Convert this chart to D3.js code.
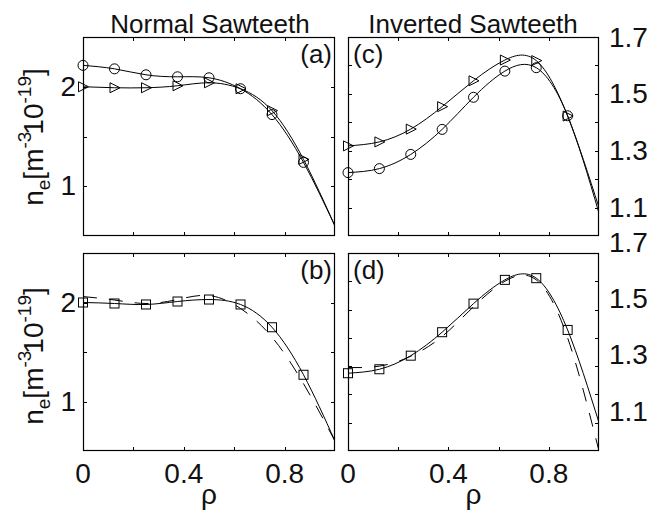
<!DOCTYPE html>
<html>
<head>
<meta charset="utf-8">
<script src="https://cdn.jsdelivr.net/npm/d3@7"></script>
<style>
  body { margin: 0; background: #fff; }
  text { font-family: "Liberation Sans", Arial, sans-serif; fill: #111; }
</style>
</head>
<body>
<div id="chart"></div>
<script>
// rho grid of the fitted curves, markers sit on the first 8 points
var rhoLine = [0, 0.125, 0.25, 0.375, 0.5, 0.625, 0.75, 0.875, 1];
var rhoMark = [0, 0.125, 0.25, 0.375, 0.5, 0.625, 0.75, 0.875];

// (a) normal sawteeth
var normCircle   = [2.215, 2.18, 2.12, 2.10, 2.09, 1.98, 1.72, 1.24, 0.60];
var normTriangle = [2.00, 1.99, 1.99, 2.01, 2.04, 1.98, 1.76, 1.27, 0.60];
// (b) normal sawteeth
var normSquare   = [2.00, 1.99, 1.98, 2.01, 2.03, 1.98, 1.75, 1.27, 0.60];
var normDashed   = [2.06, 2.025, 1.99, 2.03, 2.07, 1.94, 1.65, 1.18, 0.60];
// (c) inverted sawteeth
var invCircle    = [1.223, 1.237, 1.287, 1.375, 1.488, 1.580, 1.592, 1.423, 1.08];
var invTriangle  = [1.317, 1.331, 1.376, 1.455, 1.546, 1.619, 1.617, 1.422, 1.10];
// (d) inverted sawteeth
var invSquare    = [1.275, 1.289, 1.337, 1.420, 1.521, 1.605, 1.611, 1.428, 1.10];
var invDashed    = [1.295, 1.30, 1.335, 1.405, 1.51, 1.60, 1.605, 1.40, 1.00];

var xTicks = [0.2, 0.4, 0.6, 0.8];
var xTickLabels = [0, 0.4, 0.8];
var normYTicks = [1, 1.5, 2];
var normYLabels = [1, 2];
var invYTicks = [1.1, 1.2, 1.3, 1.4, 1.5, 1.6];
var invYLabels = [1.1, 1.3, 1.5, 1.7];

var svg = d3.select("#chart").append("svg")
  .attr("width", 648).attr("height", 515);

var panels = [
  {id: "a", x0: 83,  x1: 335, y0: 37,  y1: 236, dom: [0.5, 2.5], yt: normYTicks, tag: "(a)", tagRight: true,
   series: [{v: normCircle, m: "circle"}, {v: normTriangle, m: "triangle"}]},
  {id: "c", x0: 348, x1: 599, y0: 37,  y1: 236, dom: [1.0, 1.7], yt: invYTicks, tag: "(c)", tagRight: false,
   series: [{v: invCircle, m: "circle"}, {v: invTriangle, m: "triangle"}]},
  {id: "b", x0: 83,  x1: 335, y0: 253, y1: 451, dom: [0.5, 2.5], yt: normYTicks, tag: "(b)", tagRight: true,
   series: [{v: normDashed, dash: true}, {v: normSquare, m: "square"}]},
  {id: "d", x0: 348, x1: 599, y0: 253, y1: 451, dom: [1.0, 1.7], yt: invYTicks, tag: "(d)", tagRight: false,
   series: [{v: invDashed, dash: true}, {v: invSquare, m: "square"}]}
];

var tri = "M-4.5,-5L5.5,0L-4.5,5Z";

panels.forEach(function(p) {
  p.x = d3.scaleLinear().domain([0, 1]).range([p.x0, p.x1]);
  p.y = d3.scaleLinear().domain(p.dom).range([p.y1, p.y0]);
  var g = svg.append("g").attr("id", "panel_" + p.id);

  var line = d3.line()
    .x(function(d, i) { return p.x(rhoLine[i]); })
    .y(function(d) { return p.y(d); })
    .curve(d3.curveNatural);

  g.append("defs").append("clipPath").attr("id", "clip_" + p.id)
    .append("rect").attr("x", p.x0).attr("y", p.y0)
    .attr("width", p.x1 - p.x0).attr("height", p.y1 - p.y0);

  var plot = g.append("g").attr("clip-path", "url(#clip_" + p.id + ")");

  p.series.forEach(function(s) {
    plot.append("path").datum(s.v)
      .attr("d", line)
      .attr("fill", "none")
      .attr("stroke", "#000")
      .attr("stroke-width", 1)
      .attr("stroke-dasharray", s.dash ? "14,12" : null);

    if (!s.m) return;
    var pts = rhoMark.map(function(r, i) { return [p.x(r), p.y(s.v[i])]; });
    if (s.m == "circle") {
      g.selectAll(null).data(pts).enter().append("circle")
        .attr("cx", function(d) { return d[0]; })
        .attr("cy", function(d) { return d[1]; })
        .attr("r", 5).attr("fill", "none").attr("stroke", "#000");
    } else if (s.m == "triangle") {
      g.selectAll(null).data(pts).enter().append("path")
        .attr("d", tri)
        .attr("transform", function(d) { return "translate(" + d[0] + "," + d[1] + ")"; })
        .attr("fill", "none").attr("stroke", "#000");
    } else {
      g.selectAll(null).data(pts).enter().append("rect")
        .attr("x", function(d) { return d[0] - 4.5; })
        .attr("y", function(d) { return d[1] - 4.5; })
        .attr("width", 9).attr("height", 9)
        .attr("fill", "none").attr("stroke", "#000");
    }
  });

  // frame
  g.append("rect")
    .attr("x", p.x0 + 0.5).attr("y", p.y0 + 0.5)
    .attr("width", p.x1 - p.x0 - 1).attr("height", p.y1 - p.y0 - 1)
    .attr("fill", "none").attr("stroke", "#000").attr("stroke-width", 1.2);

  // inward ticks on all four sides
  var tl = 4;
  xTicks.forEach(function(t) {
    var xx = Math.round(p.x(t)) + 0.5;
    g.append("line").attr("x1", xx).attr("x2", xx).attr("y1", p.y1).attr("y2", p.y1 - tl).attr("stroke", "#000");
    g.append("line").attr("x1", xx).attr("x2", xx).attr("y1", p.y0).attr("y2", p.y0 + tl).attr("stroke", "#000");
  });
  p.yt.forEach(function(t) {
    var yy = Math.round(p.y(t)) + 0.5;
    g.append("line").attr("x1", p.x0).attr("x2", p.x0 + tl).attr("y1", yy).attr("y2", yy).attr("stroke", "#000");
    g.append("line").attr("x1", p.x1).attr("x2", p.x1 - tl).attr("y1", yy).attr("y2", yy).attr("stroke", "#000");
  });

  g.append("text")
    .attr("x", p.tagRight ? p.x1 - 3 : p.x0 + 5)
    .attr("y", p.y0 + 26)
    .attr("text-anchor", p.tagRight ? "end" : "start")
    .attr("font-size", 26)
    .text(p.tag);
});

// left y labels on the normal panels
[panels[0], panels[2]].forEach(function(p) {
  svg.selectAll(null).data(normYLabels).enter().append("text")
    .attr("x", 76).attr("y", function(d) { return p.y(d) + 9; })
    .attr("text-anchor", "end").attr("font-size", 28)
    .text(function(d) { return d; });
});

// right y labels on the inverted panels (the lower set sits a bit high, as in the original)
[[panels[1], 0], [panels[3], -11]].forEach(function(pp) {
  var p = pp[0];
  svg.selectAll(null).data(invYLabels).enter().append("text")
    .attr("x", 609).attr("y", function(d) { return Math.max(p.y(d), p.y0 + 1) + pp[1] + 9; })
    .attr("font-size", 28)
    .text(function(d) { return d3.format(".1f")(d); });
});

// x labels on the bottom panels
[panels[2], panels[3]].forEach(function(p) {
  svg.selectAll(null).data(xTickLabels).enter().append("text")
    .attr("x", function(d) { return p.x(d); }).attr("y", 483)
    .attr("text-anchor", "middle").attr("font-size", 28)
    .text(function(d) { return d; });
  svg.append("text")
    .attr("x", (p.x0 + p.x1) / 2).attr("y", 504)
    .attr("text-anchor", "middle").attr("font-size", 28)
    .text("ρ");
});

// titles
svg.append("text").attr("x", 210).attr("y", 33).attr("text-anchor", "middle")
  .attr("font-size", 26).text("Normal Sawteeth");
svg.append("text").attr("x", 473).attr("y", 33).attr("text-anchor", "middle")
  .attr("font-size", 26).text("Inverted Sawteeth");

// y axis titles
[[137, 0], [356, 0]].forEach(function(c) {
  var t = svg.append("text")
    .attr("transform", "translate(43," + c[0] + ") rotate(-90)")
    .attr("text-anchor", "middle").attr("font-size", 28);
  t.append("tspan").text("n");
  t.append("tspan").attr("font-size", 19).attr("dy", 7).text("e");
  t.append("tspan").attr("dy", -7).text("[m");
  t.append("tspan").attr("font-size", 19).attr("dy", -12).text("-3");
  t.append("tspan").attr("dy", 12).attr("dx", -3).text("10");
  t.append("tspan").attr("font-size", 19).attr("dy", -12).text("-19");
  t.append("tspan").attr("dy", 12).text("]");
});
</script>
</body>
</html>
